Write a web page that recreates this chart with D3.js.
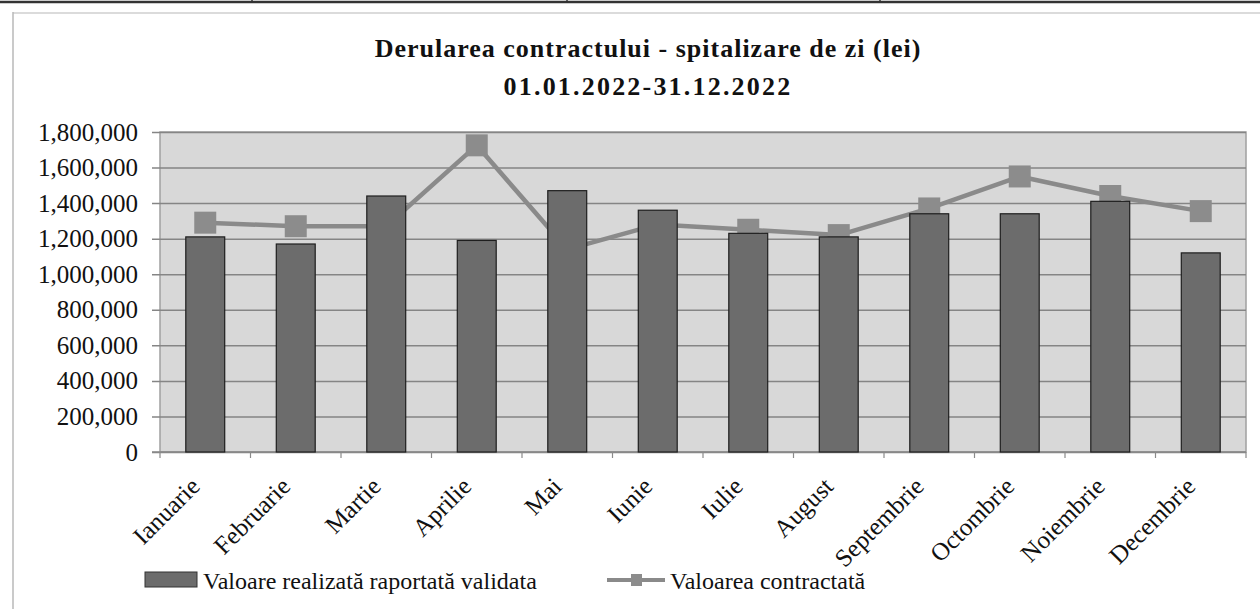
<!DOCTYPE html>
<html>
<head>
<meta charset="utf-8">
<script src="https://cdn.jsdelivr.net/npm/d3@7"></script>
<style>
  body { margin: 0; background: #fff; }
  svg { display: block; }
  svg text { font-family: "Liberation Serif", "DejaVu Serif", serif !important; }
</style>
</head>
<body>
<svg id="chart"></svg>
<script>
const width = 1260, height = 609;

const months = ['Ianuarie', 'Februarie', 'Martie', 'Aprilie', 'Mai', 'Iunie',
  'Iulie', 'August', 'Septembrie', 'Octombrie', 'Noiembrie', 'Decembrie'];
// Valoare realizată raportată validata (bars)
const realizat = [1210000, 1170000, 1440000, 1190000, 1470000, 1360000,
  1230000, 1210000, 1340000, 1340000, 1410000, 1120000];
// Valoarea contractată (line)
const contractat = [1290000, 1270000, 1270000, 1725000, 1140000, 1280000,
  1250000, 1220000, 1370000, 1550000, 1440000, 1355000];
const yTicks = [0, 200000, 400000, 600000, 800000, 1000000, 1200000, 1400000, 1600000, 1800000];
const titleLines = ['Derularea contractului - spitalizare de zi (lei)', '01.01.2022-31.12.2022'];
const legendLabels = ['Valoare realizată raportată validata', 'Valoarea contractată'];

const plot = { left: 160, right: 1246, top: 132, bottom: 452 };

const svg = d3.select('#chart').attr('width', width).attr('height', height);

// page frame bits (scan of a table above the chart)
svg.append('line').attr('x1', 0).attr('x2', width).attr('y1', 2).attr('y2', 2)
  .attr('stroke', '#333').attr('stroke-width', 2.5);
[252, 567, 880].forEach(x => {
  svg.append('line').attr('x1', x).attr('x2', x).attr('y1', 0).attr('y2', 3)
    .attr('stroke', '#333').attr('stroke-width', 1.5);
});
svg.append('line').attr('x1', 13).attr('x2', width).attr('y1', 13).attr('y2', 13)
  .attr('stroke', '#cfcfcf').attr('stroke-width', 1.5);
svg.append('line').attr('x1', 13).attr('x2', 13).attr('y1', 12).attr('y2', height)
  .attr('stroke', '#b8b8b8').attr('stroke-width', 1.5);

const x = d3.scaleBand().domain(months)
  .range([plot.left, plot.right]).paddingInner(0.57).paddingOuter(0.285);
const y = d3.scaleLinear().domain([0, 1800000]).range([plot.bottom, plot.top]);
const cx = d => x(d) + x.bandwidth() / 2;

// plot area
svg.append('rect')
  .attr('x', plot.left).attr('y', plot.top)
  .attr('width', plot.right - plot.left).attr('height', plot.bottom - plot.top)
  .attr('fill', '#d8d8d8').attr('stroke', '#a0a0a0').attr('stroke-width', 1.5);

// gridlines + y axis
const yAxis = svg.append('g')
  .attr('transform', `translate(${plot.left},0)`)
  .call(d3.axisLeft(y).tickValues(yTicks).tickFormat(d3.format(','))
    .tickSize(-(plot.right - plot.left)).tickPadding(22));
yAxis.attr('font-family', null);
yAxis.select('.domain').remove();
yAxis.selectAll('.tick line').attr('stroke', '#858585').attr('stroke-width', 1.5)
  .attr('x1', -8);
yAxis.selectAll('.tick text')
  .attr('font-size', 25).attr('fill', '#111');

// x axis
const xAxis = svg.append('g')
  .attr('transform', `translate(0,${plot.bottom})`)
  .call(d3.axisBottom(x).tickSize(0).tickFormat(''));
xAxis.select('.domain').attr('stroke', '#8a8a8a').attr('stroke-width', 1.5)
  .attr('d', `M${plot.left - 8},0H${plot.right}`);
d3.range(months.length + 1).forEach(i => {
  const xx = plot.left + i * x.step();
  xAxis.append('line').attr('x1', xx).attr('x2', xx).attr('y1', 0).attr('y2', 6)
    .attr('stroke', '#8a8a8a').attr('stroke-width', 1.2);
});

svg.append('g').selectAll('text')
  .data(months).join('text')
  .attr('transform', d => `translate(${cx(d) - 4},${plot.bottom + 36}) rotate(-45)`)
  .attr('text-anchor', 'end')
  .attr('font-size', 25).attr('fill', '#111')
  .text(d => d);

// contracted line (drawn under the bars)
const pts = months.map((m, i) => [cx(m), y(contractat[i])]);
svg.append('path')
  .attr('d', d3.line()(pts))
  .attr('fill', 'none').attr('stroke', '#8a8a8a').attr('stroke-width', 4.5)
  .attr('stroke-linejoin', 'round');
svg.append('g').selectAll('rect')
  .data(pts).join('rect')
  .attr('x', d => d[0] - 11).attr('y', d => d[1] - 11)
  .attr('width', 22).attr('height', 22)
  .attr('fill', '#8c8c8c');

// bars
svg.append('g').selectAll('rect')
  .data(months).join('rect')
  .attr('x', d => x(d)).attr('width', x.bandwidth())
  .attr('y', (d, i) => y(realizat[i]))
  .attr('height', (d, i) => plot.bottom - y(realizat[i]))
  .attr('fill', '#6c6c6c').attr('stroke', '#1e1e1e').attr('stroke-width', 1.2);

// title
const titleSpacing = [1.0, 2.2];
svg.append('g').selectAll('text')
  .data(titleLines).join('text')
  .attr('x', 648).attr('y', (d, i) => 57 + i * 38)
  .attr('text-anchor', 'middle')
  .attr('font-size', 26).attr('font-weight', 'bold')
  .attr('letter-spacing', (d, i) => titleSpacing[i])
  .attr('fill', '#111')
  .text(d => d);

// legend
const lg = svg.append('g');
lg.append('rect').attr('x', 145).attr('y', 572).attr('width', 52).attr('height', 15)
  .attr('fill', '#6c6c6c').attr('stroke', '#333').attr('stroke-width', 1);
lg.append('text').attr('x', 203).attr('y', 589).attr('font-size', 24).attr('fill', '#111')
  .text(legendLabels[0]);
lg.append('line').attr('x1', 607).attr('x2', 665).attr('y1', 580).attr('y2', 580)
  .attr('stroke', '#8a8a8a').attr('stroke-width', 4);
lg.append('rect').attr('x', 631).attr('y', 574).attr('width', 11).attr('height', 12)
  .attr('fill', '#8c8c8c');
lg.append('text').attr('x', 670).attr('y', 589).attr('font-size', 24).attr('fill', '#111')
  .text(legendLabels[1]);
</script>
</body>
</html>
